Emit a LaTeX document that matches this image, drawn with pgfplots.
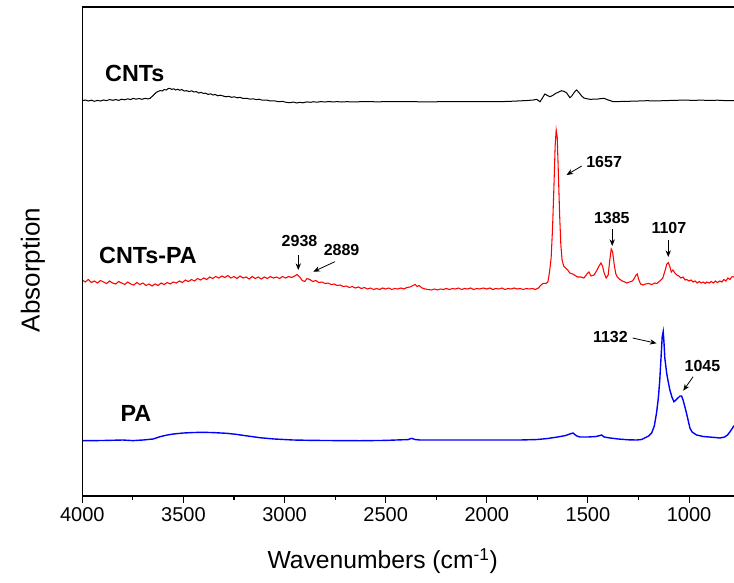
\documentclass[border=0pt]{standalone}
\usepackage{fontspec}
\setmainfont{Liberation Sans}
\usepackage{pgfplots}
\pgfplotsset{compat=1.18}
\usetikzlibrary{arrows.meta}
\begin{document}
\begin{tikzpicture}
\useasboundingbox (-61.7pt,-64.5pt) rectangle (488.8pt,372pt);
\begin{axis}[
  name=ax,
  at={(0,0)}, anchor=south west,
  scale only axis, width=488.8pt, height=366.75pt,
  x dir=reverse, xmin=778, xmax=4000,
  y dir=reverse, ymin=7, ymax=496,
  xtick={1000,1500,2000,2500,3000,3500,4000},
  minor xtick={1250,1750,2250,2750,3250,3750},
  xtick pos=bottom, ytick=\empty,
  tick align=outside,
  major tick length=5.25pt, minor tick length=3pt,
  every tick/.style={black, line width=0.8pt},
  axis line style={draw=none},
  /pgf/number format/assume math mode=true,
  /pgf/number format/1000 sep={},
  tick label style={font=\fontsize{15}{18}\selectfont},
  xlabel={Wavenumbers (cm\textsuperscript{-1})},
  ylabel={Absorption},
  every axis x label/.style={at={(axis description cs:0.461,-0.133)}, anchor=center, font=\fontsize{18.5}{21}\selectfont},
  every axis y label/.style={at={(axis description cs:-0.0757,0.462)}, anchor=center, rotate=90, font=\fontsize{19.5}{22}\selectfont},
  clip mode=individual,
]
% CNTs (black)
\addplot[black, line width=0.75pt] coordinates {
(4000,100.7) (3985,100) (3970,101) (3955,100.2) (3940,101.3) (3925,100.4) (3910,101) (3895,100) (3880,100.6) (3865,99.6)
(3848,100.3) (3835,99.5) (3820,100.4) (3805,99.2) (3790,99.8) (3775,98.8) (3760,99.6) (3749,98.3) (3735,99.2) (3720,98.5)
(3705,99.3) (3690,98.4) (3675,98.9) (3665,98.3) (3655,96.5) (3645,94.5) (3635,92.5) (3625,91.5) (3615,90.5) (3605,91)
(3595,89.5) (3585,90) (3575,88.6) (3567,88.3) (3558,89.4) (3548,88.8) (3538,90) (3528,89.2) (3518,90.3) (3508,89.5)
(3496,91) (3484,90.7) (3472,91.6) (3460,90.8) (3448,92) (3436,91.6) (3424,93) (3413,92.4) (3402,93.3) (3390,93.2)
(3378,94.4) (3366,93.8) (3354,95) (3342,94.5) (3330,95.8) (3318,95.2) (3303,96) (3290,96.8) (3276,96.3) (3262,97.3)
(3248,96.8) (3234,97.8) (3220,97.3) (3206,98.4) (3187,98.3) (3170,99.2) (3155,98.8) (3140,99.6) (3125,99.2) (3110,100.2)
(3089,100) (3070,101) (3050,100.8) (3030,101.7) (3010,101.4) (2990,102.4) (2973,102.7) (2955,102) (2940,103) (2925,102.3)
(2910,102.8) (2890,101.9) (2870,102.3) (2858,101.7) (2840,102.2) (2820,101.6) (2800,102) (2780,101.5) (2760,102) (2740,101.6)
(2720,102) (2693,101.7) (2650,101.9) (2600,101.5) (2550,101.8) (2500,101.7) (2450,101.6) (2380,101.7) (2300,101.8) (2200,101.7)
(2100,101.7) (2000,101.7) (1936,101.7) (1870,101.2) (1800,100.5) (1770,100) (1754,99.3) (1745,100.5) (1737,101.7) (1725,98)
(1713,94) (1700,95.5) (1688,96.7) (1675,95.5) (1660,93.5) (1645,92) (1630,90.7) (1617,91.5) (1605,93) (1595,96)
(1589,97.7) (1580,96) (1570,93) (1562,91) (1556,90) (1545,92.5) (1531,96) (1520,98) (1510,98.5) (1490,99.3)
(1470,99.2) (1450,99) (1435,98.6) (1421,98.3) (1410,99.2) (1400,100) (1385,101) (1375,101.7) (1340,101.5) (1300,101.3)
(1250,101) (1210,100.7) (1160,100.9) (1100,100.5) (1060,100.3) (1029,100) (980,100.4) (940,100.1) (900,100.5) (860,100.2)
(820,100.6) (781,100.7) (778,100.6)
};
% CNTs-PA (red)
\addplot[red, line width=0.8pt] coordinates {
(4000,280) (3985,282) (3970,279.5) (3955,282.5) (3940,281) (3925,283) (3910,280.5) (3895,282) (3880,283.5) (3865,281)
(3850,283) (3835,284) (3820,281.5) (3805,283) (3790,284.5) (3775,282) (3760,284) (3745,285) (3730,282.5) (3715,284.5)
(3700,283) (3685,285.5) (3670,284) (3655,286) (3640,284) (3625,285.5) (3610,283) (3595,284.5) (3580,282.5) (3565,284)
(3550,282) (3535,283) (3520,281) (3505,282.5) (3490,280) (3475,281.5) (3460,279.5) (3445,281) (3430,278.5) (3415,280)
(3400,278) (3385,279.5) (3370,277) (3355,278.5) (3340,276.5) (3325,278) (3310,276) (3295,277.5) (3280,275.5) (3265,278)
(3250,276.5) (3235,278.5) (3220,276) (3205,278) (3190,277) (3175,279) (3160,276.5) (3145,278.5) (3130,277) (3115,279)
(3100,277) (3085,278.5) (3070,276.5) (3055,278) (3040,277) (3025,278.5) (3010,276.5) (2995,278) (2980,276.5) (2965,277.5)
(2950,276) (2938,274.5) (2925,277) (2912,280.5) (2900,281.5) (2889,278.5) (2875,279.5) (2860,281.5) (2845,280.5) (2830,282.5)
(2815,282) (2800,283.5) (2785,283) (2770,284.5) (2755,284) (2740,285.5) (2725,285) (2710,286.5) (2695,286) (2680,287.5)
(2665,286.5) (2650,288) (2635,287) (2620,288.5) (2605,287.5) (2590,289) (2575,288) (2560,289.5) (2545,288.5) (2530,289.5)
(2515,288) (2500,289) (2485,288) (2470,289.5) (2455,288.5) (2440,289) (2425,288) (2410,289) (2395,287.5) (2380,287)
(2365,285.5) (2355,284.5) (2345,286.5) (2335,285.5) (2320,288) (2305,289) (2290,289.5) (2275,290) (2260,289) (2245,290)
(2230,289) (2215,289.5) (2200,288.5) (2185,289.5) (2170,288.5) (2155,289) (2140,288) (2125,289.5) (2110,288.5) (2095,289)
(2080,288) (2065,289.5) (2050,288.5) (2035,289) (2018,288) (2000,289) (1985,288) (1970,289.5) (1955,288.5) (1940,289)
(1925,288) (1910,289.5) (1895,288.5) (1880,289) (1865,288) (1850,289) (1835,288.5) (1820,289.5) (1805,288.5) (1790,289)
(1775,288.5) (1760,289.5) (1745,288) (1732,285) (1721,283.3) (1708,283.5) (1698,282) (1690,272) (1682,258) (1675,228)
(1668,185) (1662,145) (1657,130) (1652,137) (1646,175) (1640,215) (1634,245) (1628,260) (1620,266) (1610,268)
(1600,270) (1590,273) (1575,274) (1560,276) (1550,277) (1535,277) (1520,278) (1505,274) (1495,272) (1485,276)
(1470,275) (1455,270) (1445,266) (1436,263) (1428,266) (1420,273) (1410,278) (1400,275) (1392,260) (1385,249)
(1378,252) (1370,265) (1362,274) (1355,277) (1345,279) (1330,281) (1318,282) (1309,283) (1295,282) (1280,281)
(1270,278) (1262,275) (1256,274) (1250,279) (1240,284) (1228,285) (1215,284) (1200,283.5) (1185,284.5) (1170,283)
(1160,283.5) (1145,281) (1130,278) (1118,270) (1110,264) (1103,262.7) (1096,266) (1088,272) (1080,270) (1070,273)
(1061,275) (1050,276) (1040,278) (1030,277) (1020,280) (1012,279.5) (1000,281) (990,280) (980,282) (970,281)
(960,283) (950,281.5) (940,283) (930,282) (920,283.5) (913,282) (900,283) (890,281.5) (880,283) (870,281)
(860,282.5) (848,281) (838,282) (828,279.5) (818,281) (808,278) (798,279.5) (790,277) (784,276.7) (778,277)
};
% PA (blue)
\addplot[blue, line width=1.05pt] coordinates {
(4000,440.7) (3900,440.5) (3800,440) (3750,440.6) (3700,440) (3650,439) (3616,436.7) (3580,435) (3550,434) (3500,433)
(3450,432.5) (3403,432.3) (3350,432.6) (3286,433.3) (3240,434.3) (3200,435.5) (3160,436.6) (3122,437.7) (3050,439) (2957,440)
(2880,440.3) (2800,440.5) (2700,440.6) (2627,440.7) (2500,440.4) (2450,440) (2390,439.6) (2372,438.3) (2355,439.5) (2331,440)
(2200,440) (2100,440) (2000,440) (1900,440) (1836,440) (1750,439.5) (1700,438.5) (1650,437) (1610,435.5) (1590,434)
(1574,433) (1562,435) (1555,436) (1540,437) (1500,437) (1460,436.5) (1440,435.5) (1432,435) (1420,437) (1390,438)
(1350,439) (1300,439.8) (1259,440) (1235,439.5) (1220,438) (1200,436) (1185,433) (1172,426) (1161,413) (1152,398)
(1145,380) (1138,355) (1133,337) (1128,331.7) (1124,343) (1120,358) (1111,373) (1103,382) (1095,390) (1085,397)
(1075,401.7) (1065,400) (1055,398) (1045,396) (1037,396) (1030,400) (1021,406.7) (1012,414) (1005,420) (996,428)
(985,432) (963,435) (930,436.5) (900,437) (870,437.5) (848,438) (825,437) (810,435) (795,431) (779,426) (778,425.5)
};
% sample labels
\node[font=\fontsize{17.5}{20}\selectfont\bfseries] at (axis cs:3740,73.3) {CNTs};
\node[font=\fontsize{17.5}{20}\selectfont\bfseries] at (axis cs:3675,255) {CNTs-PA};
\node[font=\fontsize{17.5}{20}\selectfont\bfseries] at (axis cs:3735,413.3) {PA};
% peak labels
\node[font=\fontsize{12}{14}\selectfont\bfseries] at (axis cs:2926,240.7) {2938};
\node[font=\fontsize{12}{14}\selectfont\bfseries] at (axis cs:2718,250) {2889};
\node[font=\fontsize{12}{14}\selectfont\bfseries] at (axis cs:1420,161.7) {1657};
\node[font=\fontsize{12}{14}\selectfont\bfseries] at (axis cs:1382,218) {1385};
\node[font=\fontsize{12}{14}\selectfont\bfseries] at (axis cs:1100,228) {1107};
\node[font=\fontsize{12}{14}\selectfont\bfseries] at (axis cs:1389,337.3) {1132};
\node[font=\fontsize{12}{14}\selectfont\bfseries] at (axis cs:934,366) {1045};
% arrows
\draw[-{Stealth[length=5pt,width=4pt]}, line width=0.6pt] (axis cs:2932,255) -- (axis cs:2932,270);
\draw[-{Stealth[length=5pt,width=4pt]}, line width=0.6pt] (axis cs:2751,261.7) -- (axis cs:2858,271.7);
\draw[-{Stealth[length=5pt,width=4pt]}, line width=0.6pt] (axis cs:1531,166) -- (axis cs:1606,175);
\draw[-{Stealth[length=5pt,width=4pt]}, line width=0.6pt] (axis cs:1380,229) -- (axis cs:1380,246);
\draw[-{Stealth[length=5pt,width=4pt]}, line width=0.6pt] (axis cs:1103,240) -- (axis cs:1103,257);
\draw[-{Stealth[length=5pt,width=4pt]}, line width=0.6pt] (axis cs:1279,338) -- (axis cs:1161,343.3);
\draw[-{Stealth[length=5pt,width=4pt]}, line width=0.6pt] (axis cs:980,376.7) -- (axis cs:1029,390.7);
\end{axis}
\draw[line width=0.9pt] (ax.north east) -- (ax.north west) -- (ax.south west) -- (ax.south east);
\end{tikzpicture}
\end{document}
